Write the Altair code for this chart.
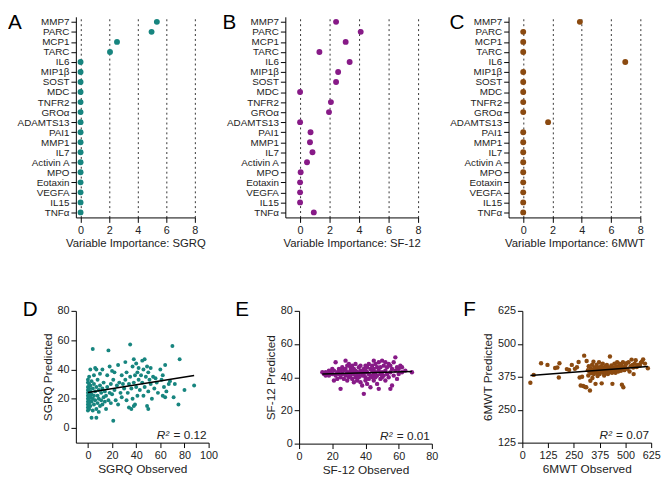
import altair as alt
import pandas as pd

# ---------------- data ----------------
markers = ["MMP7", "PARC", "MCP1", "TARC", "IL6", "MIP1β", "SOST", "MDC", "TNFR2", "GROα",
           "ADAMTS13", "PAI1", "MMP1", "IL7", "Activin A", "MPO", "Eotaxin", "VEGFA", "IL15", "TNFα"]
imp_sgrq = [5.34, 4.97, 2.55, 2.06, 0, 0, 0, 0, 0, 0, 0, 0, 0, 0, 0, 0, 0, 0, 0, 0]
imp_sf12 = [2.44, 4.11, 3.09, 1.31, 3.36, 2.58, 2.44, 0, 2.09, 1.96,
            0, 0.71, 0.67, 0.84, 0.47, 0.04, 0, 0, 0, 0.93]
imp_6mwt = [3.87, 0, 0, 0, 6.97, 0, 0, 0, 0, 0, 1.70, 0, 0, 0, 0, 0, 0, 0, 0, 0]

sgrq_obs = [0, 0, 0, 0, 0, 0, 0, 0, 0, 0, 0, 1, 1, 1, 1, 1, 1, 1, 2, 2, 2, 2, 2, 3, 3, 3, 3,
            4, 4, 4, 4, 5, 5, 5, 5, 6, 6, 6, 7, 7, 7, 7, 8, 8, 8, 9, 9, 9, 10, 10, 10,
            11, 11, 12, 12, 12, 13, 13, 14, 14, 15, 15, 16, 16, 17, 17, 18, 18, 19, 19, 20, 20,
            21, 21, 22, 22, 23, 24, 25, 25, 26, 27, 28, 28, 29, 30, 31, 31, 32, 32, 33, 34, 34, 35, 35,
            36, 36, 37, 37, 38, 38, 38, 39, 39, 40, 40, 41, 41, 42, 42, 43, 44, 45, 45, 46, 46, 47, 47, 48, 49, 49, 50, 50, 50,
            51, 52, 52, 53, 54, 55, 56, 57, 58, 60, 61, 62, 62, 63, 64, 64, 65, 67, 68, 70, 71, 72, 75, 76, 80, 88]
sgrq_pred = [12, 14, 16, 18, 20, 22, 24, 26, 28, 31, 33, 13, 17, 19, 23, 27, 30, 35, 15, 21, 25, 29, 40, 7, 18, 23, 32,
             54, 12, 20, 27, 16, 22, 30, 36, 19, 25, 41, 7, 13, 28, 40, 17, 22, 33, 11, 26, 20, 15, 29, 37,
             19, 24, 16, 27, 40, 21, 31, 18, 25, 13, 22, 28, 36, 53, 19, 42, 24, 30, 17, 23, 39,
             5, 33, 26, 38, 19, 29, 16, 43, 31, 24, 36, 21, 30, 27, 45, 33, 38, 19, 24, 14, 30, 57, 35,
             13, 27, 20, 42, 15, 47, 31, 16, 36, 44, 28, 22, 38, 33, 41, 26, 36, 31, 46, 22, 40, 47, 28, 35, 42, 15, 25, 13, 38,
             33, 30, 41, 20, 35, 27, 34, 31, 24, 40, 33, 22, 36, 28, 43, 21, 25, 30, 32, 56, 21, 30, 16, 47, 26, 29]

sf12_obs = [14, 15, 16, 16, 17, 18, 18, 19, 20, 20,
            21, 21, 22, 22, 23, 23, 24, 24, 25, 25, 25,
            26, 26, 27, 27, 28, 28, 28, 29, 29, 29, 30, 30, 30,
            31, 31, 31, 32, 32, 32, 33, 33, 33, 34, 34, 34, 35, 35, 35,
            36, 36, 36, 37, 37, 37, 38, 38, 38, 39, 39, 39, 40, 40, 40, 40,
            41, 41, 41, 42, 42, 42, 43, 43, 43, 44, 44, 44, 45, 45, 45, 45,
            46, 46, 46, 47, 47, 47, 48, 48, 48, 49, 49, 49, 50, 50, 50,
            51, 51, 52, 52, 52, 53, 53, 54, 54, 55, 55, 55,
            56, 56, 57, 57, 58, 58, 59, 59, 60, 60, 61, 62, 62, 64, 68]
sf12_pred = [43, 42, 41, 43, 42, 44, 41, 43, 42, 45,
             38, 44, 49, 41, 43, 39, 45, 42, 33, 40, 44,
             42, 46, 39, 44, 50, 41, 45, 43, 38, 47, 48, 42, 40,
             44, 41, 46, 47, 39, 43, 42, 45, 37, 44, 40, 48, 43, 41, 38,
             46, 42, 40, 37, 44, 47, 43, 41, 35, 30, 45, 42, 44, 40, 47, 38,
             43, 46, 36, 48, 42, 39, 45, 41, 34, 44, 47, 40, 50, 42, 38, 45,
             43, 48, 40, 46, 41, 36, 33, 44, 49, 42, 46, 39, 50, 43, 40,
             47, 41, 44, 49, 38, 42, 46, 40, 48, 47, 33, 43,
             35, 45, 41, 49, 52, 44, 39, 46, 45, 42, 47, 46, 43, 44, 43]

mwt_obs = [39, 55, 91, 122, 159, 170, 177, 180, 216, 227, 240, 255, 265, 273, 278, 283, 290, 295, 300, 305,
           310, 312, 318, 320, 322, 325, 328, 330, 333, 335, 338, 340, 342, 345, 347, 350, 352, 355, 357, 360,
           362, 365, 367, 370, 372, 375, 377, 380, 382, 385, 387, 390, 392, 395, 397, 400, 402, 405, 407, 410,
           412, 415, 417, 420, 422, 425, 427, 430, 432, 435, 437, 440, 442, 445, 447, 450, 452, 455, 458, 460,
           463, 465, 468, 470, 475, 478, 480, 483, 485, 488, 490, 492, 495, 500, 505, 510, 515, 520, 525, 530,
           535, 538, 540, 545, 550, 555, 560, 570, 575, 580, 586, 595, 609]
mwt_pred = [352, 382, 426, 420, 408, 410, 372, 426, 404, 401, 420, 405, 411, 431, 372, 342, 375, 340, 455, 336,
            335, 435, 400, 380, 415, 395, 323, 360, 405, 388, 420, 370, 398, 432, 385, 410, 395, 348, 402, 420,
            390, 378, 410, 398, 430, 385, 405, 395, 415, 350, 400, 425, 390, 408, 380, 398, 415, 390, 402, 420,
            395, 385, 410, 400, 392, 452, 405, 398, 418, 390, 348, 410, 400, 395, 425, 405, 390, 415, 398, 430,
            402, 395, 412, 425, 405, 398, 420, 345, 408, 430, 335, 410, 400, 418, 426, 405, 430, 395, 415, 440,
            420, 410, 385, 425, 438, 412, 420, 418, 428, 432, 441, 425, 407]

# ---------------- style ----------------
FONT = "Liberation Sans"
TEAL = "#17857f"
PURPLE = "#871a87"
BROWN = "#8b4a10"


def letter_layer(letter, dx, dy):
    return alt.Chart(pd.DataFrame({"t": [letter]})).mark_text(
        align="left", baseline="alphabetic", fontSize=21, font=FONT, color="black"
    ).encode(x=alt.value(dx), y=alt.value(dy), text="t:N")


def importance_panel(values, color, title, letter, xdom, width, letter_dx):
    df = pd.DataFrame({"marker": markers, "imp": values})
    pts = alt.Chart(df).mark_circle(size=36, opacity=1, color=color).encode(
        x=alt.X("imp:Q", scale=alt.Scale(domain=xdom, nice=False, zero=False),
                axis=alt.Axis(values=[0, 2, 4, 6, 8], grid=True, gridDash=[2, 3],
                              gridColor="#333333", gridWidth=1, title=title, titlePadding=3,
                              titleFontSize=11.5, labelOverlap=False, labelFlush=False)),
        y=alt.Y("marker:N", sort=markers, scale=alt.Scale(type="point", padding=0.5),
                axis=alt.Axis(title=None, labelFontSize=10, labelOverlap=False)),
    )
    return alt.layer(pts, letter_layer(letter, letter_dx, 12)).properties(width=width, height=204)


def scatter_panel(xs, ys, color, xdom, ydom, xticks, yticks, xtitle, ytitle,
                  letter, letter_dx, r2, width, height, size):
    df = pd.DataFrame({"obs": xs, "pred": ys})
    base = alt.Chart(df)
    X = alt.X("obs:Q", scale=alt.Scale(domain=xdom, nice=False, zero=False),
              axis=alt.Axis(values=xticks, title=xtitle, grid=False, titlePadding=3,
                            labelOverlap=False, labelFlush=False))
    Y = alt.Y("pred:Q", scale=alt.Scale(domain=ydom, nice=False, zero=False),
              axis=alt.Axis(values=yticks, title=ytitle, grid=False, titlePadding=3,
                            labelOverlap=False, labelFlush=False))
    pts = base.mark_circle(size=size, opacity=1, color=color).encode(x=X, y=Y)
    line = base.transform_regression("obs", "pred").mark_line(
        color="black", strokeWidth=1.5).encode(x=X, y=Y)
    txt_df = pd.DataFrame({"a": ["R²"], "b": ["= " + r2]})
    t1 = alt.Chart(txt_df).mark_text(align="right", baseline="alphabetic", fontSize=12,
                                     font=FONT, color="#222222").encode(
        x=alt.value(width - 2), y=alt.value(height - 4), text="b:N")
    t2 = alt.Chart(txt_df).mark_text(align="right", baseline="alphabetic", fontSize=12,
                                     font=FONT, fontStyle="italic", color="#222222").encode(
        x=alt.value(width - 40), y=alt.value(height - 4), text="a:N")
    return alt.layer(pts, line, t1, t2, letter_layer(letter, letter_dx, 5)).properties(
        width=width, height=height)


pA = importance_panel(imp_sgrq, TEAL, "Variable Importance: SGRQ", "A", [-0.33, 8], 121, -69)
pB = importance_panel(imp_sf12, PURPLE, "Variable Importance: SF-12", "B", [-1, 8], 135, -64)
pC = importance_panel(imp_6mwt, BROWN, "Variable Importance: 6MWT", "C", [-1, 8], 134, -60)

pD = scatter_panel(sgrq_obs, sgrq_pred, TEAL, [-10, 100], [-10, 80], [0, 20, 40, 60, 80, 100],
                   [0, 20, 40, 60, 80], "SGRQ Observed", "SGRQ Predicted", "D", -54, "0.12", 135, 134, 16)
pE = scatter_panel(sf12_obs, sf12_pred, PURPLE, [0, 80], [0, 80], [0, 20, 40, 60, 80],
                   [0, 20, 40, 60, 80], "SF-12 Observed", "SF-12 Predicted", "E", -65, "0.01", 135, 135, 20)
pF = scatter_panel(mwt_obs, mwt_pred, BROWN, [0, 625], [125, 625], [0, 125, 250, 375, 500, 625],
                   [125, 250, 375, 500, 625], "6MWT Observed", "6MWT Predicted", "F", -60, "0.07", 131, 134, 20)

row1 = alt.hconcat(pA, pB, pC, spacing=92, bounds="flush")
row2 = alt.hconcat(pD, pE, pF, spacing=92, bounds="flush")

chart = alt.vconcat(row1, row2, spacing=50).properties(padding=0).configure_view(
    stroke=None
).configure_axis(
    domainColor="black", tickColor="black", labelColor="#222222", titleColor="#222222",
    labelFont=FONT, titleFont=FONT, labelFontSize=11, titleFontSize=12,
    titleFontWeight="normal", tickSize=5, domainWidth=1, tickWidth=1, labelPadding=2
)

chart.save("out.html", embed_options={"renderer": "svg", "actions": False})
